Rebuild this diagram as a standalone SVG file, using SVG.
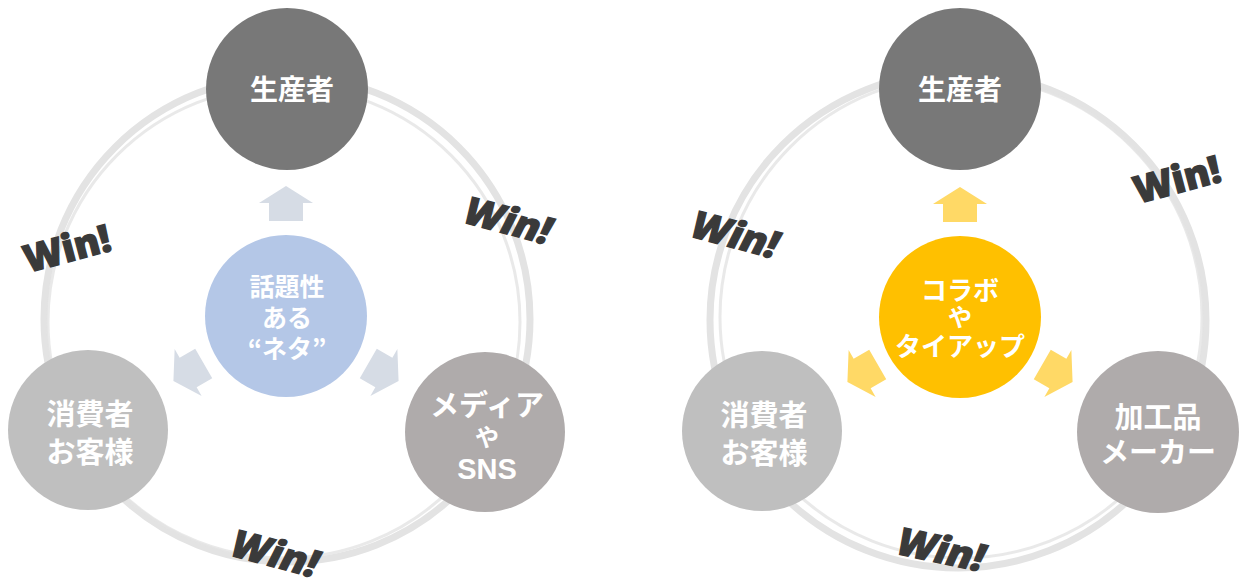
<svg xmlns="http://www.w3.org/2000/svg" width="1239" height="588" viewBox="0 0 1239 588">
<style>
.ring{fill:none;stroke:#e3e3e3;}
.lbl{font-family:"Noto Sans CJK JP","Noto Sans",sans-serif;font-weight:700;fill:#ffffff;text-anchor:middle;}
.ya{font-size:24px;}
.win{font-family:"Open Sans","Liberation Sans",sans-serif;font-weight:800;font-size:38px;fill:#3a3a3a;stroke:#3a3a3a;stroke-width:1.3;text-anchor:middle;}
.ab{fill:#d6dce5;}
.ay{fill:#ffd966;}
</style>
<defs>
<path id="arr" d="M0,-130 L27,-113 L17,-113 L17,-95 L-17,-95 L-17,-113 L-27,-113 Z"/>
</defs>
<rect width="1239" height="588" fill="#ffffff"/>
<g id="rings">
<circle class="ring" cx="287" cy="319" r="243" stroke-width="7"/>
<circle class="ring" cx="284" cy="322" r="236" stroke-width="3" opacity="0.8"/>
<circle class="ring" cx="958" cy="320" r="248" stroke-width="7"/>
<circle class="ring" cx="961" cy="317" r="241" stroke-width="3" opacity="0.8"/>
</g>
<g id="connectors">
<use href="#arr" class="ab" transform="translate(286,316)"/>
<use href="#arr" class="ab" transform="translate(286,316) rotate(120)"/>
<use href="#arr" class="ab" transform="translate(286,316) rotate(-120)"/>
<use href="#arr" class="ay" transform="translate(960,317)"/>
<use href="#arr" class="ay" transform="translate(960,317) rotate(120)"/>
<use href="#arr" class="ay" transform="translate(960,317) rotate(-120)"/>
</g>
<g id="L-producer">
<circle cx="287" cy="89" r="81" fill="#787878"/>
<text class="lbl" x="292" y="100" font-size="28">生産者</text>
</g>
<g id="L-consumer">
<circle cx="88" cy="430" r="80" fill="#bfbfbf"/>
<text class="lbl" font-size="29"><tspan x="90" y="425">消費者</tspan><tspan x="90" y="463">お客様</tspan></text>
</g>
<g id="L-media">
<circle cx="485" cy="432" r="80" fill="#afabab"/>
<text class="lbl" font-size="29"><tspan x="487" y="416">メディア</tspan><tspan class="ya" x="487" y="446">や</tspan><tspan x="487" y="479" font-family="Liberation Sans,sans-serif">SNS</tspan></text>
</g>
<g id="L-center">
<circle cx="286" cy="316" r="81" fill="#b4c7e7"/>
<text class="lbl" font-size="25"><tspan x="287" y="296">話題性</tspan><tspan x="287" y="327">ある</tspan><tspan x="287" y="358">“ネタ”</tspan></text>
</g>
<g id="R-producer">
<circle cx="960" cy="89" r="81" fill="#787878"/>
<text class="lbl" x="960" y="100" font-size="28">生産者</text>
</g>
<g id="R-consumer">
<circle cx="762" cy="431" r="80" fill="#bfbfbf"/>
<text class="lbl" font-size="29"><tspan x="764" y="426">消費者</tspan><tspan x="764" y="464">お客様</tspan></text>
</g>
<g id="R-maker">
<circle cx="1158" cy="432" r="81" fill="#afabab"/>
<text class="lbl" font-size="29"><tspan x="1158" y="428">加工品</tspan><tspan x="1158" y="463">メーカー</tspan></text>
</g>
<g id="R-center">
<circle cx="960" cy="317" r="81" fill="#ffc000"/>
<text class="lbl" font-size="26"><tspan x="960" y="300">コラボ</tspan><tspan class="ya" x="960" y="326">や</tspan><tspan x="960" y="356">タイアップ</tspan></text>
</g>
<g id="win-labels">
<text class="win" transform="translate(67,249) rotate(-15)" y="13">Win!</text>
<text class="win" transform="translate(508,221) rotate(15) skewX(-12)" y="13">Win!</text>
<text class="win" transform="translate(275,554) rotate(15) skewX(-12)" y="13">Win!</text>
<text class="win" transform="translate(735,235) rotate(15) skewX(-12)" y="13">Win!</text>
<text class="win" transform="translate(1177,180) rotate(-15)" y="13">Win!</text>
<text class="win" transform="translate(941,550) rotate(12) skewX(-12)" y="13">Win!</text>
</g>
</svg>
